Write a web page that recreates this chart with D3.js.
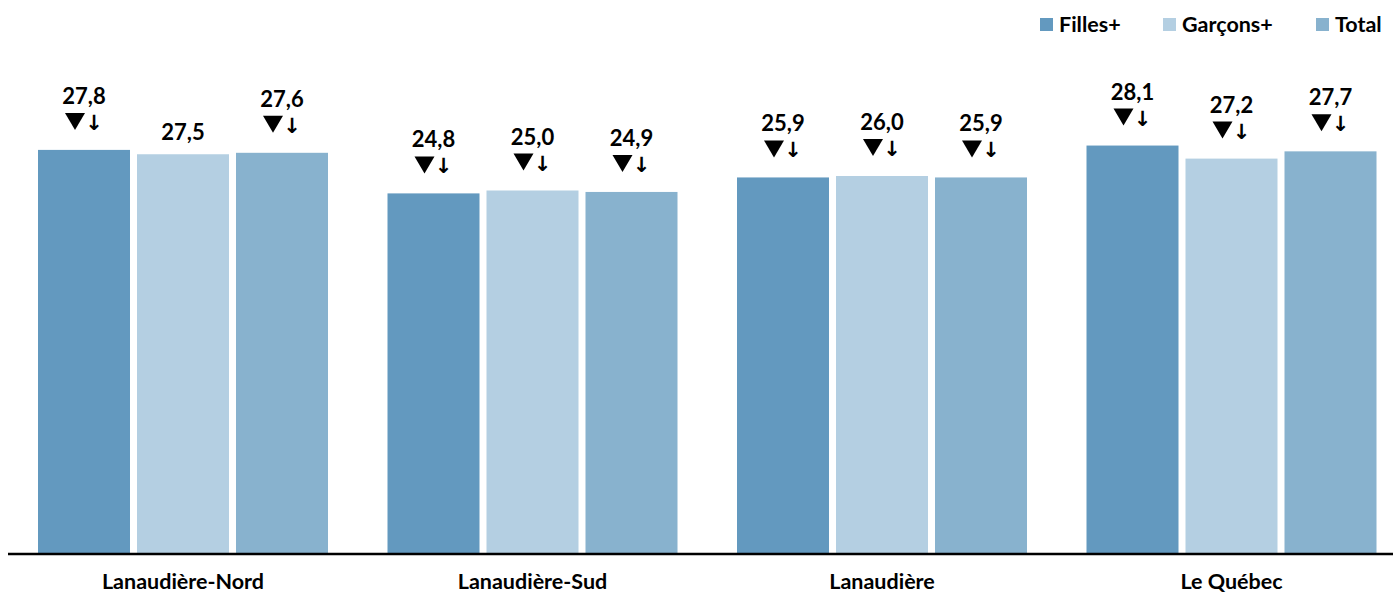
<!DOCTYPE html>
<html><head><meta charset="utf-8">
<script src="https://cdn.jsdelivr.net/npm/d3@7/dist/d3.min.js"></script>
<style>
body{margin:0;background:#fff;}
svg text{font-family:Lato,"Open Sans",sans-serif;font-weight:bold;fill:#000;}
</style></head>
<body><svg id="c" width="1393" height="594"></svg>
<script>
const categories = ["Lanaudière-Nord","Lanaudière-Sud","Lanaudière","Le Québec"];
const series = ["Filles+","Garçons+","Total"];
const filles = [27.8, 24.8, 25.9, 28.1];
const garcons = [27.5, 25.0, 26.0, 27.2];
const total = [27.6, 24.9, 25.9, 27.7];
const fillesMark = [true, true, true, true];
const garconsMark = [false, true, true, true];
const totalMark = [true, true, true, true];
const colors = ["#6399bf", "#b4cfe2", "#88b2ce"];

const valuesBySeries = [filles, garcons, total];
const marksBySeries = [fillesMark, garconsMark, totalMark];
const data = [];
categories.forEach((c, i) => series.forEach((s, j) => data.push({cat:c, ser:s, v:valuesBySeries[j][i], mark:marksBySeries[j][i], color:colors[j]})));

const svg = d3.select("#c");
const base = 553;
const x0 = d3.scaleBand().domain(categories).range([8.25, 1406.25]).padding(0);
const x1 = d3.scaleBand().domain(series).range([29.75, 319.75]).paddingInner(7/99).paddingOuter(0);
const y = d3.scaleLinear().domain([0, 38]).range([base, base - 38*14.5]);
const fmt = v => d3.format(".1f")(v).replace(".", ",");

const g = svg.append("g");
g.selectAll("rect.bar").data(data).join("rect")
  .attr("x", d => x0(d.cat) + x1(d.ser))
  .attr("y", d => y(d.v))
  .attr("width", x1.bandwidth())
  .attr("height", d => base - y(d.v))
  .attr("fill", d => d.color);

// value labels
g.selectAll("text.val").data(data).join("text")
  .attr("x", d => x0(d.cat) + x1(d.ser) + x1.bandwidth()/2)
  .attr("y", d => y(d.v) - (d.mark ? 46 : 14))
  .attr("text-anchor", "middle")
  .style("font-size", "22px")
  .text(d => fmt(d.v));

// markers
const mk = g.selectAll("g.mk").data(data.filter(d => d.mark)).join("g")
  .attr("transform", d => `translate(${x0(d.cat) + x1(d.ser) + x1.bandwidth()/2},${y(d.v) - 20})`);
mk.append("path")
  .attr("d", "M-19,-17 L1,-17 L-9,0 Z")
  .attr("fill", "#000");
mk.append("text").attr("x", 10).attr("y", 0).attr("text-anchor","middle")
  .style("font-family", "'DejaVu Sans'").style("font-size", "21px").style("font-weight","bold")
  .text("↓");

// axis
const axis = d3.axisBottom(x0).tickSize(0).tickPadding(21);
const ax = svg.append("g").attr("transform", `translate(0,${base})`).call(axis);
ax.select(".domain").attr("d", "M8,1H1393").attr("stroke", "#000").attr("stroke-width", 2.5);
ax.selectAll(".tick text").style("font-family", "Lato,'Open Sans',sans-serif").style("font-weight","bold").style("font-size", "21.5px").attr("fill", "#000");

// legend
const legX = [1040, 1163, 1316];
const leg = svg.append("g").selectAll("g").data(series).join("g")
  .attr("transform", (d, i) => `translate(${legX[i]},18)`);
leg.append("rect").attr("width", 13).attr("height", 13).attr("fill", (d, i) => colors[i]);
leg.append("text").attr("x", 19).attr("y", 14).style("font-size", "21.5px").text(d => d);
</script></body></html>
